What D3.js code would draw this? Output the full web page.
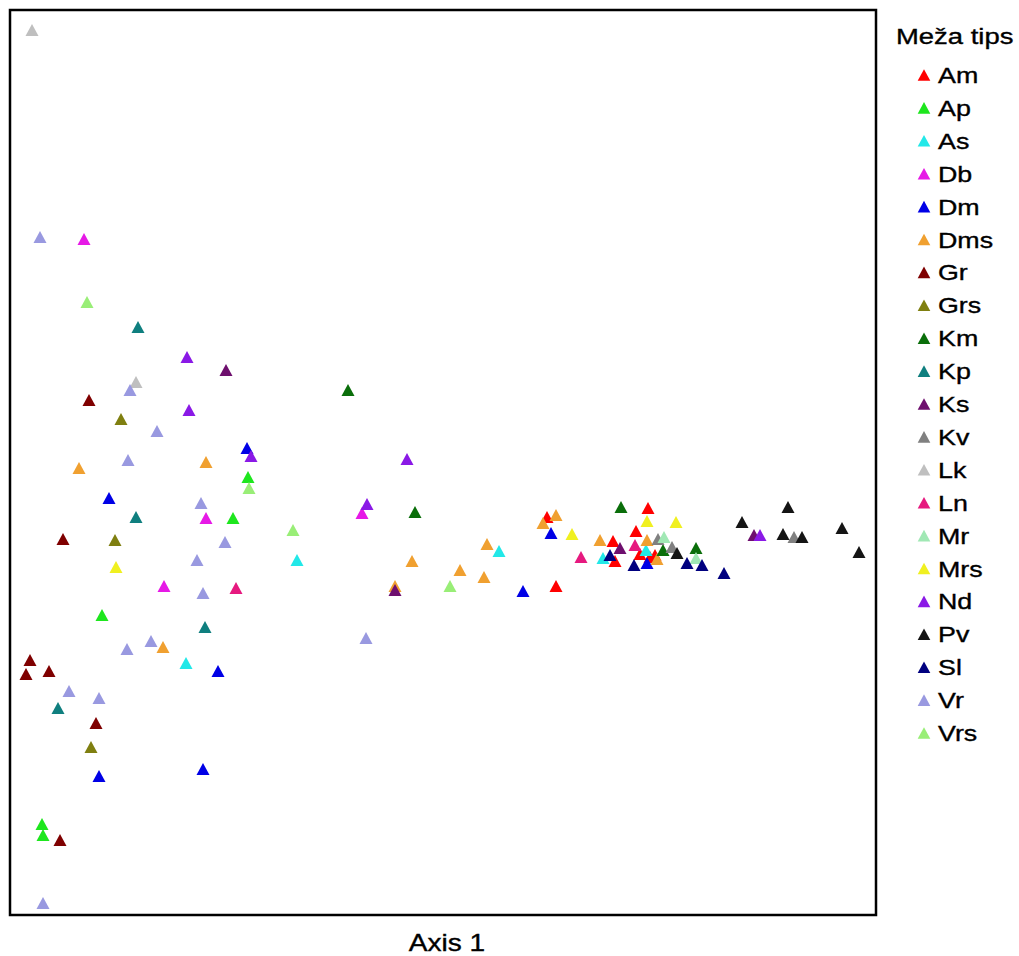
<!DOCTYPE html>
<html><head><meta charset="utf-8">
<script src="https://cdn.jsdelivr.net/npm/d3@7"></script>
<style>body{margin:0;background:#fff}svg{display:block}text{font-family:"Liberation Sans",Arial,sans-serif;fill:#000;stroke:#000;stroke-width:0.35px}</style>
</head><body>
<svg id="c" width="1019" height="956"></svg>
<script>
const categories = ["Am","Ap","As","Db","Dm","Dms","Gr","Grs","Km","Kp","Ks","Kv","Lk","Ln","Mr","Mrs","Nd","Pv","Sl","Vr","Vrs"];
const colors = ["#ff0000","#1ee61e","#22e8e8","#e619e6","#0000e6","#f0a030","#7f0000","#7f7f10","#0a6e0a","#0f7f7f","#6e0f6e","#808080","#bfbfbf","#e6197f","#a0e8b4","#f0f020","#8a19e6","#141414","#00007f","#9999e0","#99ee77"];
const legendTitle = "Meža tips";
const xTitle = "Axis 1";
const xDomain = [0, 86.6];
const yDomain = [0, 90.6];

// axis 1 / axis 2 scores, per category
const Am  = [[53.7,39.9],[54.6,33.0],[63.8,40.8],[62.6,38.5],[60.3,37.5],[63.0,36.2],[60.5,35.5],[64.5,36.1],[64.0,35.9]];
const Ap  = [[23.8,43.9],[22.3,39.8],[9.2,30.1],[3.2,9.2],[3.3,8.1]];
const As  = [[28.7,35.6],[17.6,25.3],[48.9,36.5],[59.3,35.8],[63.6,36.6]];
const Db  = [[7.4,67.7],[19.6,39.8],[15.4,33.0],[35.2,40.3]];
const Dm  = [[23.7,46.8],[9.9,41.8],[20.8,24.5],[8.9,14.0],[19.3,14.7],[51.3,32.5],[54.1,38.3],[63.7,35.3]];
const Dms = [[19.6,45.4],[6.9,44.8],[15.3,26.9],[40.2,35.5],[47.7,37.2],[45.0,34.6],[47.4,33.9],[38.5,33.0],[54.6,40.1],[53.3,39.3],[59.0,37.6],[63.7,37.6],[64.7,35.7]];
const Gr  = [[7.9,51.6],[5.3,37.7],[2.0,25.6],[1.6,24.2],[3.9,24.5],[8.6,19.3],[5.0,7.6]];
const Grs = [[11.1,49.7],[10.5,37.6],[8.1,16.9]];
const Km  = [[33.8,52.6],[40.5,40.4],[61.1,40.9],[65.3,36.6],[68.6,36.8]];
const Kp  = [[12.8,58.9],[12.6,39.9],[19.5,28.9],[4.8,20.8]];
const Ks  = [[21.6,54.6],[38.5,32.6],[61.0,36.8],[74.4,38.1]];
const Kv  = [[64.8,37.7],[66.2,36.9],[78.4,37.9]];
const Lk  = [[2.2,88.6],[12.6,53.4]];
const Ln  = [[22.6,32.8],[57.1,35.9],[62.5,37.1]];
const Mr  = [[65.4,37.9],[68.6,35.8]];
const Mrs = [[10.6,34.9],[56.2,38.2],[63.7,39.5],[66.6,39.4]];
const Nd  = [[17.7,55.9],[17.9,50.6],[24.1,46.0],[39.7,45.7],[35.7,41.2],[75.0,38.1]];
const Pv  = [[66.7,36.3],[73.2,39.4],[77.8,40.9],[77.3,38.2],[79.2,37.9],[83.2,38.8],[84.9,36.4]];
const Sl  = [[60.0,36.1],[62.4,35.1],[67.7,35.3],[69.2,35.1],[71.4,34.3]];
const Vr  = [[3.0,67.9],[12.0,52.6],[14.7,48.5],[11.8,45.6],[19.1,41.3],[21.5,37.4],[18.7,35.6],[19.3,32.3],[14.1,27.5],[11.7,26.7],[5.9,22.5],[8.9,21.8],[35.6,27.8],[3.3,1.3]];
const Vrs = [[7.7,61.4],[23.9,42.8],[28.3,38.6],[44.0,33.0]];
const seriesValues = [Am,Ap,As,Db,Dm,Dms,Gr,Grs,Km,Kp,Ks,Kv,Lk,Ln,Mr,Mrs,Nd,Pv,Sl,Vr,Vrs];

const points = [];
categories.forEach((c,i)=>seriesValues[i].forEach(v=>points.push({cat:c, x:v[0], y:v[1]})));

const svg = d3.select("#c");
const plot = {left:10, top:10, right:876, bottom:915};
const x = d3.scaleLinear().domain(xDomain).range([plot.left, plot.right]);
const y = d3.scaleLinear().domain(yDomain).range([plot.bottom+1, plot.top]);
const color = d3.scaleOrdinal().domain(categories).range(colors);

const tri = {draw(ctx, size){ const w = Math.sqrt(size)/2, h = w*0.92;
  ctx.moveTo(0,-h); ctx.lineTo(w,h); ctx.lineTo(-w,h); ctx.closePath(); }};
const sym = d3.symbol().type(tri).size(169);

svg.append("g").selectAll("path").data(points).join("path")
  .attr("transform", d=>`translate(${x(d.x)},${y(d.y)})`)
  .attr("d", sym).attr("fill", d=>color(d.cat));

svg.append("rect").attr("x",plot.left).attr("y",plot.top)
  .attr("width",plot.right-plot.left).attr("height",plot.bottom-plot.top)
  .attr("fill","none").attr("stroke","#000").attr("stroke-width",2.5);

const sx = 1.22;
svg.append("text").attr("transform",`translate(${(plot.left+plot.right)/2+4},951) scale(${sx},1)`)
  .attr("text-anchor","middle").attr("font-size",23).text(xTitle);

const lg = svg.append("g");
lg.append("text").attr("transform",`translate(896,44) scale(${sx},1)`).attr("font-size",22.5).text(legendTitle);
const legY = d3.scaleLinear().domain([0, categories.length-1]).range([83, 741]);
const smallSym = d3.symbol().type(tri).size(160);
const items = lg.selectAll("g.it").data(categories).join("g").attr("class","it")
  .attr("transform",(d,i)=>`translate(0,${legY(i)})`);
items.append("path").attr("d", smallSym).attr("transform","translate(924,-8)").attr("fill", d=>color(d));
items.append("text").attr("transform",`translate(938,0) scale(${sx},1)`).attr("font-size",22).text(d=>d);
</script>
</body></html>
